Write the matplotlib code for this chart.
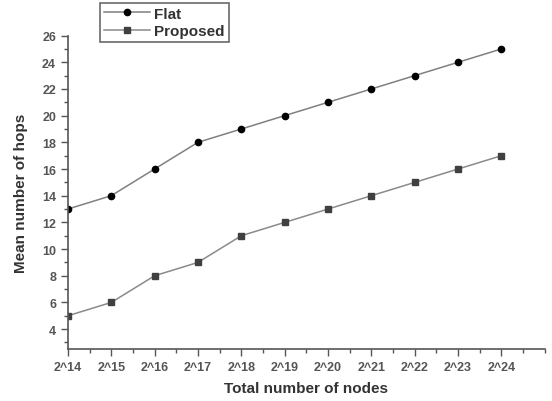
import matplotlib.pyplot as plt
import numpy as np
from matplotlib.ticker import MultipleLocator

plt.rcParams['font.family'] = ['Liberation Sans', 'DejaVu Sans']

# Exponents of the network size (2^k nodes)
exponents = [14, 15, 16, 17, 18, 19, 20, 21, 22, 23, 24]
tick_labels = ['2^%d' % k for k in exponents]

# Mean number of hops for each scheme
flat_hops = [13, 14, 16, 18, 19, 20, 21, 22, 23, 24, 25]
proposed_hops = [5, 6, 8, 9, 11, 12, 13, 14, 15, 16, 17]

fig = plt.figure(figsize=(5.52, 4.02), dpi=100)
ax = fig.add_axes([0.123, 0.129, 0.864, 0.78])

ax.plot(exponents, flat_hops, '-o', color='#808080', lw=1.1,
        mfc='black', mec='black', ms=4.5, label='Flat')
ax.plot(exponents, proposed_hops, '-s', color='#8a8a8a', lw=1.1,
        mfc='#404040', mec='#404040', ms=4, label='Proposed')

ax.set_xlim(14, 25)
ax.set_ylim(2.5, 26)
ax.set_xticks(exponents)
ax.set_xticklabels(tick_labels)
ax.xaxis.set_minor_locator(MultipleLocator(0.5))
ax.set_yticks(np.arange(4, 27, 2))
ax.yaxis.set_minor_locator(MultipleLocator(1))

for side in ['top', 'right']:
    ax.spines[side].set_visible(False)
for side in ['left', 'bottom']:
    ax.spines[side].set_color('#555555')
    ax.spines[side].set_linewidth(1.2)

ax.tick_params(axis='both', which='major', length=5, width=1, color='#555555',
               labelsize=9, labelcolor='#555555')
ax.tick_params(axis='both', which='minor', length=3, width=1, color='#555555')
for lbl in ax.get_xticklabels() + ax.get_yticklabels():
    lbl.set_fontweight('bold')

ax.set_xlabel('Total number of nodes', fontsize=11, color='#333333',
              fontweight='bold', labelpad=6)
ax.set_ylabel('Mean number of hops', fontsize=11, color='#333333',
              fontweight='bold', labelpad=10)

leg = fig.legend(loc='upper left', bbox_to_anchor=(100 / 552, 1 - 4 / 402),
                 prop={'size': 11, 'weight': 'bold'}, frameon=True,
                 fancybox=False, borderpad=0.25, borderaxespad=0,
                 handlelength=3, handletextpad=0.3, labelspacing=0.2)
leg.get_frame().set_edgecolor('#444444')
leg.get_frame().set_linewidth(1.2)
for t in leg.get_texts():
    t.set_color('#333333')

fig.savefig('out.png', dpi=100)
